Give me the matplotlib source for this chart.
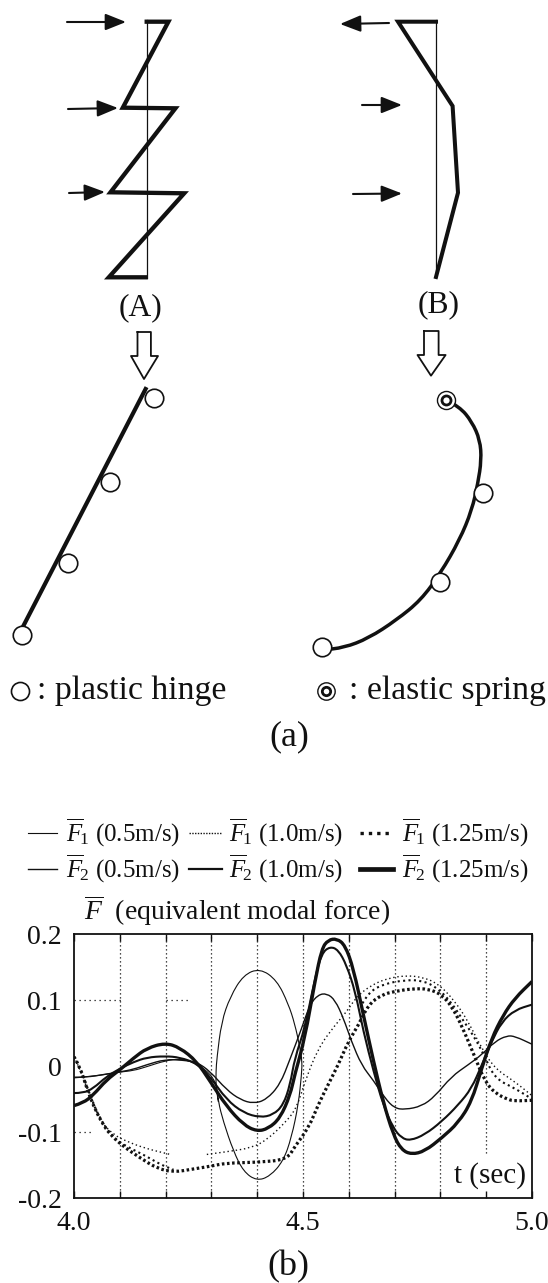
import numpy as np
import matplotlib
matplotlib.use("Agg")
import matplotlib.pyplot as plt
from matplotlib.patches import PathPatch
from matplotlib.path import Path

plt.rcParams["font.family"] = ["Liberation Serif", "DejaVu Serif"]
plt.rcParams["mathtext.fontset"] = "custom"
plt.rcParams["mathtext.rm"] = "Liberation Serif"
plt.rcParams["mathtext.it"] = "Liberation Serif:italic"

INK = "#111111"

thinAx = [146.7, 146.7]
thinAy = [20, 278]
zigzagX = [146.7, 168.4, 122.8, 175.4, 110.5, 184.2, 108.8, 145.6]
zigzagY = [21.7, 21.7, 107.7, 108.3, 192.3, 193.3, 277.3, 277.3]
arrowsA = [((67, 22), (126, 22)), ((68, 109), (118, 108)), ((69, 193), (105, 192))]

thinBx = [436, 436]
thinBy = [20, 277]
bentX = [436, 398, 452.6, 458, 436]
bentY = [21.7, 21.7, 106, 192.7, 277]
arrowsB = [((389, 23), (340, 24)), ((362, 105), (402, 105)), ((353, 194), (402, 193.5))]

hollowA = ([137.5, 150.9, 150.9, 158, 144, 131, 137.5, 137.5], [332, 332, 356, 356, 379, 356, 356, 332])
hollowB = ([424, 438.6, 438.6, 445.6, 431, 417.5, 424, 424], [331, 331, 355, 355, 375.7, 355, 355, 331])

beamAx = [145.6, 22.8]
beamAy = [389, 627]
hingesAx = [154, 110, 68.4, 22]
hingesAy = [398, 482, 562.7, 635]

beamBx = [446.3, 459.6, 471.9, 480, 481.4, 477.9, 471.9, 459.6, 440.4, 421, 396.5, 368.4, 343.9, 322]
beamBy = [400, 406.7, 421.7, 440, 460, 483.3, 510, 540, 573.3, 600, 620, 638.3, 647.7, 650]
hingesBx = [483, 440.4, 321.8]
hingesBy = [493.3, 582.3, 647.3]
springX = 446.3
springY = 400

# chart (b)
f1Slow_t = [4.0, 4.04, 4.1, 4.13, 4.159, 4.199, 4.231, 4.26, 4.285, 4.31, 4.315, 4.326, 4.348, 4.37, 4.399,
            4.428, 4.457, 4.475, 4.49, 4.497, 4.498, 4.493, 4.482, 4.468, 4.443, 4.406, 4.37, 4.341, 4.322,
            4.312, 4.31, 4.31, 4.315]
f1Slow_v = [-0.018, -0.016, -0.009, -0.007, -0.001, 0.008, 0.011, 0.006, -0.004, -0.023, -0.054, -0.084, -0.129,
            -0.16, -0.174, -0.167, -0.144, -0.108, -0.058, -0.012, 0.008, 0.029, 0.064, 0.094, 0.13, 0.148, 0.138,
            0.105, 0.067, 0.012, -0.008, -0.03, -0.054]

f1Mid_t = [4.0, 4.013, 4.028, 4.057, 4.087, 4.108, 4.151, 4.21, 4.25, 4.29, 4.333, 4.388, 4.421, 4.461, 4.486, 4.504,
           4.533, 4.57, 4.595, 4.617, 4.65, 4.686, 4.723, 4.759, 4.795, 4.832, 4.861, 4.89, 4.919, 4.963, 5.0]
f1Mid_v = [0.014, -0.004, -0.034, -0.084, -0.104, -0.112, -0.124, -0.134, np.nan, -0.134, -0.13, -0.124, -0.112,
           -0.086, -0.064, -0.024, 0.027, 0.062, 0.082, 0.105, 0.123, 0.133, 0.137, 0.135, 0.125, 0.098, 0.067,
           0.027, -0.004, -0.024, -0.045]

f1Extra_t = [4.0, 4.017, 4.035, 4.057, 4.086, 4.115, 4.159, 4.188, 4.217, 4.24, 4.63, 4.643, 4.679, 4.723, 4.759,
             4.795, 4.825, 4.846, 4.875, 4.897, 4.919, 4.963, 5.0]
f1Extra_v = [0.014, -0.009, -0.044, -0.081, -0.109, -0.122, -0.137, -0.149, -0.157, np.nan, 0.095, 0.112, 0.125,
             0.13, 0.13, 0.118, 0.095, 0.073, 0.043, 0.014, -0.019, -0.034, -0.05]

f1Fast_t = [4.0, 4.013, 4.028, 4.043, 4.061, 4.079, 4.108, 4.144, 4.181, 4.217, 4.261, 4.297, 4.333, 4.399, 4.465,
            4.482, 4.512, 4.533, 4.555, 4.577, 4.599, 4.621, 4.643, 4.672, 4.7, 4.737, 4.774, 4.803, 4.825, 4.846,
            4.875, 4.897, 4.919, 4.948, 4.963, 5.0]
f1Fast_v = [0.014, -0.001, -0.034, -0.061, -0.086, -0.104, -0.122, -0.139, -0.155, -0.161, -0.156, -0.152, -0.147,
            -0.146, -0.142, -0.122, -0.094, -0.059, -0.028, 0.002, 0.037, 0.062, 0.093, 0.108, 0.113, 0.117, 0.117,
            0.108, 0.09, 0.062, 0.014, -0.023, -0.041, -0.051, -0.053, -0.052]

f2Slow_t = [4.0, 4.028, 4.064, 4.1, 4.13, 4.159, 4.199, 4.235, 4.268, 4.297, 4.333, 4.363, 4.392, 4.42, 4.45, 4.472,
            4.497, 4.515, 4.533, 4.552, 4.57, 4.588, 4.606, 4.628, 4.654, 4.679, 4.7, 4.723, 4.759, 4.788, 4.824,
            4.861, 4.89, 4.919, 4.945, 4.963, 5.0]
f2Slow_v = [-0.017, -0.017, -0.013, -0.009, -0.005, 0.002, 0.01, 0.009, 0.006, -0.008, -0.036, -0.051, -0.057,
            -0.051, -0.028, 0.011, 0.057, 0.093, 0.108, 0.11, 0.1, 0.073, 0.037, 0.001, -0.022, -0.049, -0.064,
            -0.066, -0.061, -0.046, -0.016, 0.002, 0.017, 0.037, 0.046, 0.045, 0.033]

f2Mid_t = [4.0, 4.02, 4.042, 4.071, 4.1, 4.13, 4.159, 4.199, 4.231, 4.268, 4.297, 4.333, 4.37, 4.406, 4.435, 4.457,
           4.472, 4.482, 4.504, 4.526, 4.541, 4.559, 4.577, 4.595, 4.614, 4.632, 4.654, 4.675, 4.697, 4.715, 4.734,
           4.766, 4.803, 4.839, 4.868, 4.89, 4.912, 4.934, 4.963, 5.0]
f2Mid_v = [-0.041, -0.041, -0.034, -0.016, -0.004, 0.006, 0.013, 0.015, 0.013, 0.004, -0.016, -0.051, -0.071, -0.078,
           -0.074, -0.059, -0.028, 0.012, 0.057, 0.133, 0.171, 0.181, 0.176, 0.153, 0.113, 0.052, -0.008, -0.059,
           -0.094, -0.109, -0.113, -0.104, -0.084, -0.059, -0.034, 0.001, 0.037, 0.067, 0.085, 0.093]

f2Fast_t = [4.0, 4.02, 4.042, 4.071, 4.1, 4.13, 4.159, 4.199, 4.231, 4.268, 4.297, 4.333, 4.37, 4.399, 4.424, 4.45,
            4.472, 4.482, 4.504, 4.526, 4.541, 4.555, 4.574, 4.592, 4.61, 4.632, 4.654, 4.675, 4.697, 4.715, 4.737,
            4.766, 4.803, 4.839, 4.868, 4.89, 4.912, 4.937, 4.963, 5.0]
f2Fast_v = [-0.06, -0.056, -0.044, -0.021, -0.006, 0.012, 0.027, 0.035, 0.028, 0.007, -0.023, -0.061, -0.089, -0.099,
            -0.095, -0.079, -0.044, -0.013, 0.042, 0.128, 0.178, 0.191, 0.193, 0.183, 0.148, 0.077, 0.007, -0.054,
            -0.104, -0.127, -0.134, -0.129, -0.109, -0.086, -0.054, -0.004, 0.042, 0.077, 0.103, 0.128]

xTicks = [4.0, 4.1, 4.2, 4.3, 4.4, 4.5, 4.6, 4.7, 4.8, 4.9, 5.0]
xTickLabels = ["4.0", "", "", "", "", "4.5", "", "", "", "", "5.0"]
yTicks = [-0.2, -0.1, 0, 0.1, 0.2]
yTickLabels = ["-0.2", "-0.1", "0", "0.1", "0.2"]
gridBits = [(0.1, 4.0, 4.11), (0.1, 4.2, 4.25), (-0.1, 4.0, 4.04)]

legendNames = [r"$\overline{F}_{\!1}$ (0.5m/s)", r"$\overline{F}_{\!1}$ (1.0m/s)", r"$\overline{F}_{\!1}$ (1.25m/s)",
               r"$\overline{F}_{\!2}$ (0.5m/s)", r"$\overline{F}_{\!2}$ (1.0m/s)", r"$\overline{F}_{\!2}$ (1.25m/s)"]


def curve(ax, xs, ys, **style):
    # rounds the corners between read points, breaks at nan
    xs = np.array(xs, dtype=float)
    ys = np.array(ys, dtype=float)
    broken = np.where(np.isnan(ys))[0]
    for xPart, yPart in zip(np.split(xs, broken), np.split(ys, broken)):
        keep = ~np.isnan(yPart)
        pts = np.column_stack([xPart[keep], yPart[keep]])
        verts = [pts[0]]
        codes = [Path.MOVETO]
        for i in range(1, len(pts) - 1):
            verts += [pts[i], (pts[i] + pts[i + 1]) / 2]
            codes += [Path.CURVE3, Path.CURVE3]
        verts.append(pts[-1])
        codes.append(Path.LINETO)
        ax.add_patch(PathPatch(Path(verts, codes), fill=False, edgecolor=INK, **style))


def drawArrows(ax, arrows):
    for start, end in arrows:
        ax.annotate("", xy=end, xytext=start,
                    arrowprops=dict(arrowstyle="-|>,head_length=0.7,head_width=0.28", color=INK, lw=1.5,
                                    shrinkA=0, shrinkB=0, mutation_scale=18))


def drawDiagrams(ax):
    ax.plot(thinAx, thinAy, color=INK, lw=0.9)
    ax.plot(zigzagX, zigzagY, color=INK, lw=3.1, solid_joinstyle="miter")
    drawArrows(ax, arrowsA)
    ax.plot(thinBx, thinBy, color=INK, lw=0.9)
    ax.plot(bentX, bentY, color=INK, lw=2.9, solid_joinstyle="miter")
    drawArrows(ax, arrowsB)

    ax.text(141, 308, "(A)", fontsize=22.8, ha="center", va="center", color=INK)
    ax.text(438.6, 305, "(B)", fontsize=22.8, ha="center", va="center", color=INK)
    ax.plot(hollowA[0], hollowA[1], color=INK, lw=1.3)
    ax.plot(hollowB[0], hollowB[1], color=INK, lw=1.3)

    ax.plot(beamAx, beamAy, color=INK, lw=3.0)
    ax.plot(hingesAx, hingesAy, "o", ms=13.3, mfc="white", mec=INK, mew=1.2, ls="none")
    curve(ax, beamBx, beamBy, lw=2.5)
    ax.plot(hingesBx, hingesBy, "o", ms=13.3, mfc="white", mec=INK, mew=1.2, ls="none", zorder=3)
    ax.plot(springX, springY, "o", ms=13, mfc="white", mec=INK, mew=1.0, zorder=3)
    ax.plot(springX, springY, "o", ms=6.5, mfc="white", mec=INK, mew=2.0, zorder=3)

    ax.plot(20, 691, "o", ms=13, mfc="white", mec=INK, mew=1.2)
    ax.text(37, 691, ": plastic hinge", fontsize=24.3, va="center", color=INK)
    ax.plot(325.6, 691, "o", ms=12.5, mfc="white", mec=INK, mew=1.0)
    ax.plot(325.6, 691, "o", ms=6, mfc="white", mec=INK, mew=2.0)
    ax.text(349, 691, ": elastic spring", fontsize=24.3, va="center", color=INK)
    ax.text(289.5, 737, "(a)", fontsize=26, ha="center", va="center", color=INK)
    ax.text(288, 1267, "(b)", fontsize=26, ha="center", va="center", color=INK)


def drawLegend(ax):
    styles = [dict(lw=0.8, ls="-"), dict(lw=1.0, ls=(0, (1, 1))), dict(lw=2.4, ls=(0, (1, 1.5))),
              dict(lw=1.0, ls="-"), dict(lw=1.6, ls="-"), dict(lw=3.4, ls="-")]
    lineStarts = [28, 189, 360] * 2
    lineEnds = [57, 222, 393] * 2
    textStarts = [66, 229, 402] * 2
    rows = [833] * 3 + [869] * 3
    for i, name in enumerate(legendNames):
        ax.plot([lineStarts[i], lineEnds[i]], [rows[i], rows[i]], color=INK, **styles[i])
        ax.text(textStarts[i], rows[i], name, fontsize=18, va="center", color=INK)
    ax.text(84, 911, r"$\overline{F}$  (equivalent modal force)", fontsize=20, va="center", color=INK)


def drawChart(ax):
    ax.vlines(xTicks[1:9], -0.2, 0.2, color=INK, lw=0.9, ls=(0, (1, 2.2)))
    ax.vlines(4.9, -0.132, 0.2, color=INK, lw=0.9, ls=(0, (1, 2.2)))
    for y, t0, t1 in gridBits:
        ax.plot([t0, t1], [y, y], color=INK, lw=0.9, ls=(0, (1, 3)))

    curve(ax, f1Slow_t, f1Slow_v, lw=0.8)
    curve(ax, f2Slow_t, f2Slow_v, lw=1.0)
    curve(ax, f2Mid_t, f2Mid_v, lw=1.5)
    curve(ax, f2Fast_t, f2Fast_v, lw=2.4)
    curve(ax, f1Mid_t, f1Mid_v, lw=1.0, ls=(0, (1, 2)))
    curve(ax, f1Extra_t, f1Extra_v, lw=1.5, ls=(0, (1, 1.6)))
    curve(ax, f1Fast_t, f1Fast_v, lw=2.3, ls=(0, (0.8, 0.8)))

    ax.set_xlim(4.0, 5.0)
    ax.set_ylim(-0.2, 0.2)
    ax.set_xticks(xTicks)
    ax.set_xticklabels(xTickLabels)
    ax.set_yticks(yTicks)
    ax.set_yticklabels(yTickLabels)
    ax.tick_params(axis="x", direction="in", length=5, width=1.0, labelsize=20, pad=9, top=True, color=INK, labelcolor=INK)
    ax.tick_params(axis="y", direction="in", length=0, labelsize=20, pad=9, color=INK, labelcolor=INK)
    for spine in ax.spines.values():
        spine.set_linewidth(1.3)
        spine.set_color(INK)
    ax.patch.set_alpha(0)
    ax.text(0.987, 0.085, "t (sec)", transform=ax.transAxes, fontsize=21, ha="right", va="center", color=INK)


def main():
    fig = plt.figure(figsize=(5.48, 12.83), dpi=100)
    back = fig.add_axes([0, 0, 1, 1])
    back.set_xlim(0, 548)
    back.set_ylim(1283, 0)
    back.axis("off")
    drawDiagrams(back)
    drawLegend(back)

    chart = fig.add_axes([74 / 548, (1283 - 1198) / 1283, 458 / 548, 264 / 1283])
    drawChart(chart)

    fig.savefig("out.png", dpi=100)


if __name__ == "__main__":
    main()
